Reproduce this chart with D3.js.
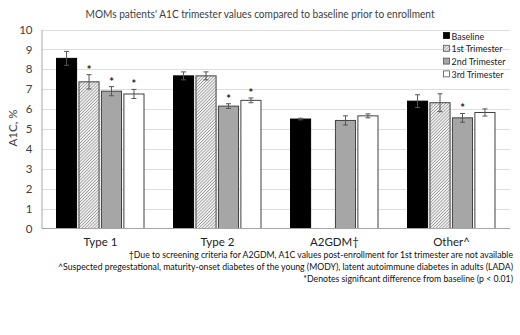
<!DOCTYPE html>
<html><head><meta charset="utf-8">
<script src="https://cdn.jsdelivr.net/npm/d3@7"></script>
<style>body{margin:0;background:#fff}svg{display:block;font-family:Lato,"Open Sans",sans-serif}</style>
</head><body><svg id="c" width="520" height="335"></svg>
<script>
const categories = ["Type 1", "Type 2", "A2GDM\u2020", "Other^"];
const seriesNames = ["Baseline", "1st Trimester", "2nd Trimester", "3rd Trimester"];
const baseline = [8.55, 7.67, 5.5, 6.4];
const trim1 = [7.37, 7.67, null, 6.32];
const trim2 = [6.9, 6.15, 5.43, 5.56];
const trim3 = [6.76, 6.44, 5.66, 5.83];
const errBaseline = [0.35, 0.2, 0.04, 0.32];
const errTrim1 = [0.36, 0.2, null, 0.45];
const errTrim2 = [0.23, 0.12, 0.23, 0.22];
const errTrim3 = [0.23, 0.12, 0.1, 0.18];
const sigTrim1 = [true, false, false, false];
const sigTrim2 = [true, true, false, true];
const sigTrim3 = [true, true, false, false];
const yTicks = [0,1,2,3,4,5,6,7,8,9,10];
const title = "MOMs patients' A1C trimester values compared to baseline prior to enrollment";
const yLabel = "A1C, %";
const footnotes = [
  "\u2020Due to screening criteria for A2GDM, A1C values post-enrollment for 1st trimester are not available",
  "^Suspected pregestational, maturity-onset diabetes of the young (MODY), latent autoimmune diabetes in adults (LADA)",
  "*Denotes significant difference from baseline (p < 0.01)"
];

const values = [baseline, trim1, trim2, trim3];
const errs = [errBaseline, errTrim1, errTrim2, errTrim3];
const sigs = [null, sigTrim1, sigTrim2, sigTrim3];
const fills = ["#000000", "url(#hatch)", "#a6a6a6", "#ffffff"];
const strokes = ["#000000", "#404040", "#404040", "#404040"];

const svg = d3.select("#c");
const defs = svg.append("defs");
const pat = defs.append("pattern").attr("id","hatch").attr("patternUnits","userSpaceOnUse")
  .attr("width",2.2).attr("height",2.2).attr("patternTransform","rotate(45)");
pat.append("rect").attr("width",2.2).attr("height",2.2).attr("fill","#f0f0f0");
pat.append("line").attr("x1",0).attr("y1",0).attr("x2",0).attr("y2",2.2).attr("stroke","#707070").attr("stroke-width",1);

function fitSize(sel, base, targetW, refIndex) {
  sel.attr("font-size", base);
  const node = sel.nodes()[refIndex || 0];
  const w = node.getComputedTextLength();
  const s = base * targetW / w;
  sel.attr("font-size", s.toFixed(2));
}

const y = d3.scaleLinear().domain([0,10]).range([228.5, 29.5]);
const x0 = d3.scaleBand().domain(categories).range([42, 510]);
const x1 = d3.scaleBand().domain(seriesNames).range([14, 102.5]).paddingInner(0.06);

// title
svg.append("text").attr("x",260).attr("y",18).attr("text-anchor","middle")
  .attr("font-size",11.2).attr("textLength",349).attr("lengthAdjust","spacingAndGlyphs")
  .attr("fill","#404040").text(title);

// gridlines
svg.append("g").selectAll("line").data(yTicks.filter(d=>d>0)).join("line")
  .attr("x1",42).attr("x2",510).attr("y1",d=>Math.round(y(d))+0.5).attr("y2",d=>Math.round(y(d))+0.5)
  .attr("stroke","#dedede").attr("stroke-width",1);

// y axis
const yAxis = d3.axisLeft(y).tickValues(yTicks).tickSize(0).tickPadding(9).tickFormat(d3.format("d"));
const gy = svg.append("g").attr("transform","translate(41.5,0)").call(yAxis);
gy.select(".domain").attr("stroke","#a6a6a6");
gy.selectAll("text").attr("font-size",11.5).attr("fill","#404040").attr("font-family","Lato,sans-serif");

svg.append("text").attr("transform","translate(17,128) rotate(-90)").attr("text-anchor","middle")
  .attr("font-size",11.5).attr("fill","#404040").text(yLabel);

// bars
const groups = svg.append("g").selectAll("g").data(categories).join("g")
  .attr("transform", c => `translate(${x0(c)},0)`);
seriesNames.forEach((s, si) => {
  groups.each(function(c, ci){
    const v = values[si][ci];
    if (v == null) return;
    const g = d3.select(this);
    const bx = x1(s), bw = x1.bandwidth();
    g.append("rect").attr("x",bx+0.5).attr("y",y(v)).attr("width",bw-1).attr("height",y(0)-y(v))
      .attr("fill",fills[si]).attr("stroke",strokes[si]).attr("stroke-width",1);
    const e = errs[si][ci];
    const cx = bx + bw/2;
    const ec = "#555";
    g.append("line").attr("x1",cx).attr("x2",cx).attr("y1",y(v+e)).attr("y2",y(v-e)).attr("stroke",ec).attr("stroke-width",1);
    g.append("line").attr("x1",cx-2.5).attr("x2",cx+2.5).attr("y1",y(v+e)).attr("y2",y(v+e)).attr("stroke",ec).attr("stroke-width",1);
    g.append("line").attr("x1",cx-2.5).attr("x2",cx+2.5).attr("y1",y(v-e)).attr("y2",y(v-e)).attr("stroke",ec).attr("stroke-width",1);
    if (sigs[si] && sigs[si][ci]) {
      g.append("text").attr("x",cx).attr("y",y(v+e)-1).attr("text-anchor","middle")
        .attr("font-size",11).attr("font-weight","bold").attr("fill","#222").text("*");
    }
  });
});

// x axis line
svg.append("line").attr("x1",42).attr("x2",510).attr("y1",228.5).attr("y2",228.5).attr("stroke","#a6a6a6");
svg.append("g").selectAll("text").data(categories).join("text")
  .attr("x",c=>x0(c)+x0.bandwidth()/2).attr("y",246).attr("text-anchor","middle")
  .attr("font-size",11.5).attr("fill","#222").text(d=>d);

// legend
const lg = svg.append("g").selectAll("g").data(seriesNames).join("g")
  .attr("transform",(d,i)=>`translate(443,${36 + i*12.8})`);
lg.append("rect").attr("x",0.5).attr("y",-3.5).attr("width",6).attr("height",6)
  .attr("fill",(d,i)=>fills[i]).attr("stroke",(d,i)=>i==0?"#000":"#555").attr("stroke-width",0.8);
const lt = lg.append("text").attr("x",8.5).attr("y",3.5).attr("fill","#222").text(d=>d);
fitSize(lt, 9.4, 51, 1);

// footnotes
const ft = svg.append("g").selectAll("text").data(footnotes).join("text")
  .attr("x",513).attr("y",(d,i)=>257.5 + i*12.3).attr("text-anchor","end")
  .attr("fill","#111").text(d=>d);
fitSize(ft, 9.6, 455, 1);
</script></body></html>
